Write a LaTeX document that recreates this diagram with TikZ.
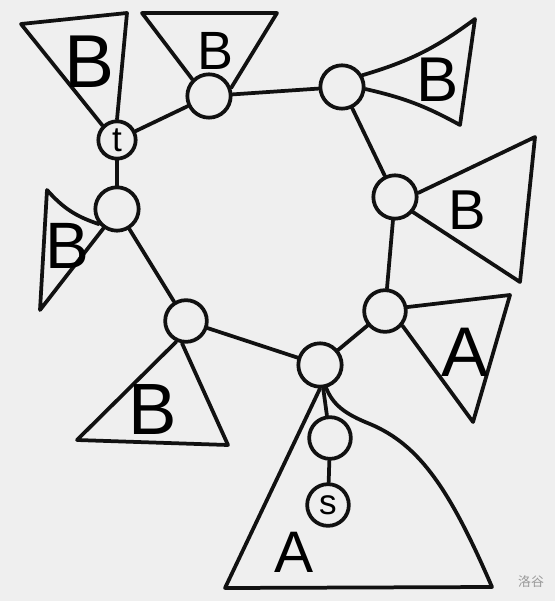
\documentclass[tikz,border=0pt]{standalone}
\usepackage{fontspec}
\setmainfont{Liberation Sans}
\newfontfamily\cjk{Noto Sans CJK SC}
\definecolor{paper}{HTML}{EFEFEF}
\definecolor{ink}{HTML}{111111}

\begin{document}
\begin{tikzpicture}[x=0.03cm,y=-0.03cm,line width=3.2pt,line cap=round,line join=round,draw=ink,
  vert/.style={draw,circle,minimum size=1.3cm,inner sep=0pt,font=\fontsize{30}{30}\selectfont},
  lab/.style={font=\fontsize{#1}{#1}\selectfont}]

\fill[paper] (0,0) rectangle (555,601);
\useasboundingbox (0,0) rectangle (555,601);

\node[vert,minimum size=1.12cm] (t) at (117,140) {t};
\node[vert] (u1) at (209,96) {};
\node[vert] (u2) at (342,87) {};
\node[vert] (u3) at (395,197) {};
\node[vert,minimum size=1.25cm] (u4) at (385,311) {};
\node[vert] (u5) at (320,365) {};
\node[vert,minimum size=1.25cm] (u6) at (186,321) {};
\node[vert] (u7) at (117,209) {};
\node[vert,minimum size=1.25cm] (c1) at (330,438) {};
\node[vert,minimum size=1.25cm] (s) at (328,505) {s};

\draw (t) -- (u1);
\draw (u1) -- (u2);
\draw (u2) -- (u3);
\draw (u3) -- (u4);
\draw (u4) -- (u5);
\draw (u5) -- (u6);
\draw (u6) -- (u7);
\draw (u7) -- (t);
\draw (u5) -- (c1);
\draw (c1) -- (s);

\draw (t.north west) -- (21,24) -- (127,13) -- (t.north);
\draw (u1.north west) -- (142,13) -- (277,13) -- (u1.20);
\draw (u2.30) to[bend right=10] (475,19) -- (460,125) to[bend right=8] (u2.-5);
\draw (u3.10) -- (535,137) -- (520,282) -- (u3.-40);
\draw (u4.10) -- (510,295) -- (473,422) -- (u4.-40);
\draw (u5.south) -- (225,588) -- (492,587) .. controls (450,490) and (420,445) .. (370,424)
  .. controls (345,414) and (333,405) .. (u5.-75);
\draw (u6.-115) -- (77,440) -- (228,445) -- (u6.-100);
\draw (u7.-140) to[bend left=15] (47,190) -- (40,310) -- (u7.-125);

\node[lab=64] (b1) at (90,62) {B};
\node[lab=46] (b2) at (215,51) {B};
\node[lab=54] (b3) at (438,80) {B};
\node[lab=48] (b4) at (467,210) {B};
\node[lab=56] (b5) at (67,246) {B};
\node[lab=62] (b6) at (153,410) {B};
\node[lab=60] (a1) at (465,352) {A};
\node[lab=50] (a2) at (294,552) {A};

\node[font=\cjk\fontsize{11}{11}\selectfont,text=black!40] (wm) at (531,582) {洛谷};
\end{tikzpicture}
\end{document}
